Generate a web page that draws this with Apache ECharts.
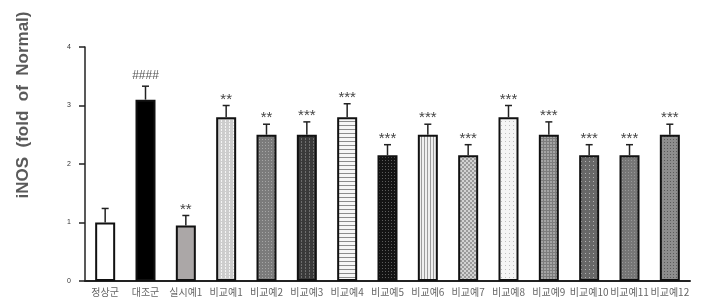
<!DOCTYPE html>
<html>
<head>
<meta charset="utf-8">
<script src="https://cdn.jsdelivr.net/npm/echarts@6/dist/echarts.min.js"></script>
<style>
html,body{margin:0;padding:0;background:#fff;}
#chart{width:717px;height:308px;}
</style>
</head>
<body>
<div id="chart"></div>
<script>
// ---- data ----
var categories = ['정상군','대조군','실시예1','비교예1','비교예2','비교예3','비교예4','비교예5','비교예6','비교예7','비교예8','비교예9','비교예10','비교예11','비교예12'];
var values = [1.0, 3.1, 0.95, 2.8, 2.5, 2.5, 2.8, 2.15, 2.5, 2.15, 2.8, 2.5, 2.15, 2.15, 2.5];
var errors = [0.24, 0.23, 0.17, 0.2, 0.18, 0.22, 0.23, 0.18, 0.18, 0.18, 0.2, 0.22, 0.18, 0.18, 0.18];
var marks = ['', '####', '**', '**', '**', '***', '***', '***', '***', '***', '***', '***', '***', '***', '***'];
var yTicks = [0, 1, 2, 3, 4];

// ---- styles (fill patterns) ----
function pat(w, h, bg, fg, cells) {
  var c = document.createElement('canvas');
  c.width = w; c.height = h;
  var g = c.getContext('2d');
  g.fillStyle = bg; g.fillRect(0, 0, w, h);
  g.fillStyle = fg;
  cells.forEach(function (r) { g.fillRect(r[0], r[1], r[2], r[3]); });
  return { image: c, repeat: 'repeat' };
}
var fills = [
  '#ffffff',
  '#000000',
  '#aba7a7',
  pat(4, 3, '#cdcdcd', '#f4f4f4', [[1,0,1,2]]),
  pat(3, 3, '#7b7b7b', '#a5a5a5', [[1,1,1,1]]),
  pat(4, 3, '#3a3a3a', '#6e6e6e', [[1,0,1,2]]),
  pat(4, 4, '#f6f6f6', '#8c8c8c', [[0,1,4,1]]),
  pat(3, 3, '#141414', '#5c5c5c', [[1,1,1,1]]),
  pat(3, 4, '#efefef', '#9c9c9c', [[1,0,1,4]]),
  pat(4, 4, '#d2d2d2', '#9a9a9a', [[0,0,2,2],[2,2,2,2]]),
  pat(4, 4, '#f5f5f5', '#bdbdbd', [[1,1,1,1]]),
  pat(3, 3, '#a4a4a4', '#7c7c7c', [[0,0,3,1],[0,0,1,3]]),
  pat(4, 4, '#686868', '#b4b4b4', [[1,1,1,1]]),
  pat(3, 3, '#767676', '#999999', [[1,1,1,1]]),
  pat(3, 3, '#8e8e8e', '#5a5a5a', [[1,1,1,1]])
];

var barData = values.map(function (v, i) {
  return { value: v, itemStyle: { color: fills[i] } };
});
var errData = values.map(function (v, i) { return [i, v, errors[i]]; });

var chart = echarts.init(document.getElementById('chart'), null, { renderer: 'canvas' });
chart.setOption({
  animation: false,
  backgroundColor: '#ffffff',
  grid: { left: 85, right: 27, top: 47, bottom: 27, containLabel: false },
  xAxis: {
    type: 'category',
    data: categories,
    axisLine: { lineStyle: { color: '#222', width: 2 } },
    axisTick: { show: false },
    axisLabel: { interval: 0, color: '#666', fontSize: 10, margin: 6,
      fontFamily: '"Noto Sans CJK KR", "Noto Sans", sans-serif' }
  },
  yAxis: {
    type: 'value',
    min: 0, max: 4, interval: 1,
    splitLine: { show: false },
    axisLine: { show: true, lineStyle: { color: '#222', width: 1.5 } },
    axisTick: { show: true, length: 6, lineStyle: { color: '#222', width: 1.5 } },
    axisLabel: { color: '#333', fontSize: 7, margin: 14,
      formatter: function (v) { return yTicks.indexOf(v) >= 0 ? String(v) : ''; } }
  },
  graphic: [{
    type: 'text',
    x: 23, y: 105,
    rotation: Math.PI / 2,
    style: {
      text: 'iNOS  (fold  of  Normal)',
      fill: '#5a5a5a',
      font: 'bold 17px "Liberation Sans", Arial, sans-serif',
      textAlign: 'center',
      textVerticalAlign: 'middle'
    }
  }],
  series: [
    {
      type: 'bar',
      data: barData,
      barWidth: 20,
      itemStyle: { borderColor: '#111', borderWidth: 2 },
      z: 2
    },
    {
      type: 'custom',
      data: errData,
      encode: { x: 0, y: 1 },
      z: 3,
      renderItem: function (params, api) {
        var i = api.value(0), v = api.value(1), e = api.value(2);
        var p0 = api.coord([i, v]);
        var p1 = api.coord([i, v + e]);
        var txt = marks[params.dataIndex];
        var isHash = txt.charAt(0) === '#';
        var children = [
          { type: 'line', shape: { x1: p0[0], y1: p0[1], x2: p1[0], y2: p1[1] },
            style: { stroke: '#222', lineWidth: 1.5 } },
          { type: 'line', shape: { x1: p1[0] - 3.5, y1: p1[1], x2: p1[0] + 3.5, y2: p1[1] },
            style: { stroke: '#222', lineWidth: 1.5 } }
        ];
        if (txt) {
          children.push({
            type: 'text',
            x: p1[0], y: isHash ? p1[1] - 11 : p1[1] - 6,
            style: {
              text: txt, fill: isHash ? '#555' : '#444',
              font: (isHash ? '12px' : '15px') + ' "Liberation Sans", Arial, sans-serif',
              textAlign: 'center', textVerticalAlign: 'middle'
            }
          });
        }
        return { type: 'group', children: children };
      }
    }
  ]
});
</script>
</body>
</html>
